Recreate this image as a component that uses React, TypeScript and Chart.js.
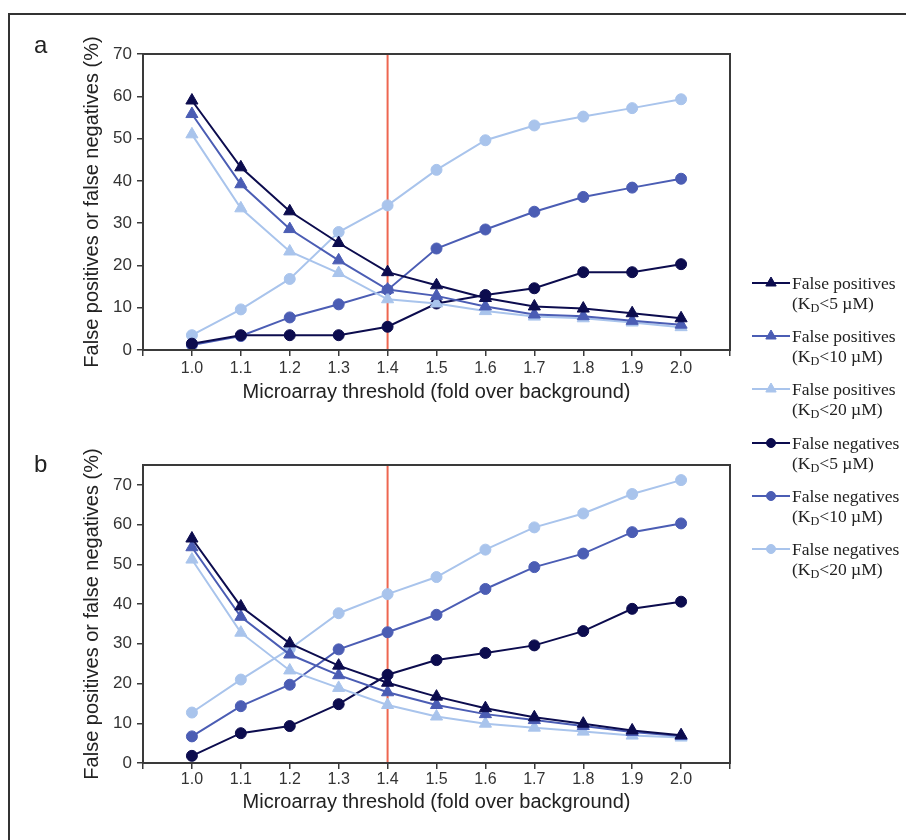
import React, { useEffect, useRef } from 'react';
import { Chart, registerables } from 'chart.js';

Chart.register(...registerables);

// ---------- data ----------
const xValues = [1.0, 1.1, 1.2, 1.3, 1.4, 1.5, 1.6, 1.7, 1.8, 1.9, 2.0];
const xTickValues = [0.9, 1.0, 1.1, 1.2, 1.3, 1.4, 1.5, 1.6, 1.7, 1.8, 1.9, 2.0, 2.1];
const yTickValues = [0, 10, 20, 30, 40, 50, 60, 70];
const thresholdX = 1.4;

// panel a
const aFP5 = [59, 43.2, 32.8, 25.3, 18.4, 15.3, 12.3, 10.3, 9.8, 8.7, 7.5];
const aFP10 = [55.8, 39.2, 28.6, 21.2, 14.3, 12.8, 10.3, 8.4, 8.0, 6.9, 6.0];
const aFP20 = [51, 33.5, 23.3, 18.2, 12, 11, 9.2, 7.9, 7.5, 6.5, 5.4];
const aFN5 = [1.5, 3.5, 3.5, 3.5, 5.5, 11, 13, 14.6, 18.4, 18.4, 20.3];
const aFN10 = [1.2, 3.3, 7.7, 10.8, 14.2, 24, 28.5, 32.7, 36.2, 38.4, 40.5];
const aFN20 = [3.5, 9.6, 16.8, 27.9, 34.2, 42.6, 49.6, 53.1, 55.2, 57.2, 59.3];

// panel b
const bFP5 = [56.5, 39.4, 30.1, 24.5, 20.2, 16.7, 13.8, 11.5, 9.9, 8.2, 7.0];
const bFP10 = [54.3, 36.8, 27.3, 22.1, 17.8, 14.6, 12.3, 10.8, 9.3, 7.8, 6.8];
const bFP20 = [51.2, 32.8, 23.3, 18.9, 14.6, 11.7, 9.9, 8.9, 7.9, 6.9, 6.4];
const bFN5 = [1.8, 7.5, 9.3, 14.8, 22.2, 25.9, 27.7, 29.6, 33.2, 38.8, 40.6];
const bFN10 = [6.7, 14.3, 19.7, 28.6, 32.9, 37.3, 43.8, 49.3, 52.7, 58.1, 60.3];
const bFN20 = [12.7, 21, 28.7, 37.7, 42.5, 46.8, 53.7, 59.3, 62.8, 67.7, 71.2];

const seriesNames = ['False positives', 'False positives', 'False positives', 'False negatives', 'False negatives', 'False negatives'];
const kdLimits = ['5', '10', '20', '5', '10', '20'];

const yAxisTitle = 'False positives or false negatives (%)';
const xAxisTitle = 'Microarray threshold (fold over background)';
const panelLabels = ['a', 'b'];

// ---------- styles ----------
const DARK = '#0c0c4e';
const MED = '#4b5db4';
const LIGHT = '#a9c4ec';
const seriesColors = [DARK, MED, LIGHT, DARK, MED, LIGHT];
const seriesMarkers = ['triangle', 'triangle', 'triangle', 'circle', 'circle', 'circle'];
const AXIS = '#3a3a3a';
const RED = '#ee6650';
const SANS = 'Arial, "Liberation Sans", sans-serif';
const SERIF = '"Times New Roman", "Liberation Serif", serif';

const framePlugin = {
  id: 'frameAndThreshold',
  beforeDatasetsDraw(chart: any) {
    const { ctx, chartArea, scales } = chart;
    const x = scales.x.getPixelForValue(thresholdX);
    ctx.save();
    ctx.strokeStyle = RED;
    ctx.lineWidth = 2;
    ctx.beginPath();
    ctx.moveTo(x, chartArea.top);
    ctx.lineTo(x, chartArea.bottom);
    ctx.stroke();
    ctx.restore();
  },
  afterDraw(chart: any) {
    const { ctx, chartArea } = chart;
    ctx.save();
    ctx.strokeStyle = AXIS;
    ctx.lineWidth = 2;
    ctx.strokeRect(chartArea.left, chartArea.top, chartArea.right - chartArea.left, chartArea.bottom - chartArea.top);
    ctx.restore();
  },
};

type PanelCfg = {
  series: number[][];
  yMax: number;
  padTop: number;
  xHeight: number;
  xTickPad: number;
  xTitlePadBottom: number;
};

function buildChart(canvas: HTMLCanvasElement, cfg: PanelCfg) {
  const datasets = cfg.series.map((vals, i) => ({
    label: seriesNames[i] + ' ' + kdLimits[i],
    data: vals.map((v, j) => ({ x: xValues[j], y: v })),
    borderColor: seriesColors[i],
    backgroundColor: seriesColors[i],
    pointBackgroundColor: seriesColors[i],
    pointBorderColor: seriesColors[i],
    pointStyle: seriesMarkers[i],
    pointRadius: seriesMarkers[i] === 'triangle' ? 7 : 5.5,
    pointBorderWidth: 1,
    borderWidth: 2,
    tension: 0,
    order: 0,
  }));
  return new Chart(canvas, {
    type: 'line',
    data: { datasets },
    plugins: [framePlugin],
    options: {
      responsive: false,
      animation: false,
      events: [],
      layout: { padding: { left: 0, right: 176, top: cfg.padTop, bottom: 0 } },
      plugins: { legend: { display: false }, tooltip: { enabled: false } },
      scales: {
        x: {
          type: 'linear',
          min: 0.9,
          max: 2.1,
          afterBuildTicks: (scale: any) => {
            scale.ticks = xTickValues.map((v) => ({ value: v }));
          },
          afterFit: (scale: any) => {
            scale.height = cfg.xHeight;
          },
          grid: { drawOnChartArea: false, drawTicks: true, tickLength: 6, color: AXIS, lineWidth: 1.5 },
          border: { display: true, color: AXIS, width: 2 },
          ticks: {
            autoSkip: false,
            maxRotation: 0,
            padding: cfg.xTickPad,
            color: '#333',
            font: { family: SANS, size: 16 },
            callback: (v: any) => {
              const n = Number(v);
              return n < 0.95 || n > 2.05 ? '' : n.toFixed(1);
            },
          },
          title: {
            display: true,
            text: xAxisTitle,
            color: '#222',
            font: { family: SANS, size: 20 },
            padding: { top: 0, bottom: cfg.xTitlePadBottom },
          },
        },
        y: {
          type: 'linear',
          min: 0,
          max: cfg.yMax,
          afterBuildTicks: (scale: any) => {
            scale.ticks = yTickValues.map((v) => ({ value: v }));
          },
          afterFit: (scale: any) => {
            scale.width = 143;
          },
          grid: { drawOnChartArea: false, drawTicks: true, tickLength: 6, color: AXIS, lineWidth: 1.5 },
          border: { display: true, color: AXIS, width: 2 },
          ticks: {
            padding: 5,
            color: '#333',
            font: { family: SANS, size: 17 },
            callback: (v: any) => String(v),
          },
          title: {
            display: true,
            text: yAxisTitle,
            color: '#222',
            font: { family: SANS, size: 20 },
            padding: { top: 80, bottom: 0 },
          },
        },
      },
    },
  } as any);
}

function Panel({ cfg, top }: { cfg: PanelCfg; top: number }) {
  const ref = useRef<HTMLCanvasElement | null>(null);
  useEffect(() => {
    if (!ref.current) return;
    const chart = buildChart(ref.current, cfg);
    return () => chart.destroy();
  }, []);
  return (
    <canvas
      ref={ref}
      width={906}
      height={420}
      style={{ position: 'absolute', left: 0, top, width: 906, height: 420 }}
    />
  );
}

function LegendMarker({ color, marker }: { color: string; marker: string }) {
  return (
    <svg width={38} height={20} style={{ position: 'absolute', left: 0, top: 0 }}>
      <line x1={0} y1={10} x2={38} y2={10} stroke={color} strokeWidth={2} />
      {marker === 'triangle' ? (
        <polygon points="19,4 24.2,13 13.8,13" fill={color} stroke={color} strokeWidth={1} />
      ) : (
        <circle cx={19} cy={10} r={4.5} fill={color} stroke={color} strokeWidth={1} />
      )}
    </svg>
  );
}

export default function App() {
  useEffect(() => {
    document.body.style.margin = '0';
  }, []);
  const panelA: PanelCfg = {
    series: [aFP5, aFP10, aFP20, aFN5, aFN10, aFN20],
    yMax: 70,
    padTop: 54,
    xHeight: 70,
    xTickPad: 3,
    xTitlePadBottom: 16,
  };
  const panelB: PanelCfg = {
    series: [bFP5, bFP10, bFP20, bFN5, bFN10, bFN20],
    yMax: 75,
    padTop: 45,
    xHeight: 77,
    xTickPad: 1,
    xTitlePadBottom: 26,
  };
  return (
    <div
      style={{
        position: 'fixed',
        left: 0,
        top: 0,
        width: 906,
        height: 840,
        overflow: 'hidden',
        background: '#fff',
      }}
    >
      <div
        style={{
          position: 'absolute',
          left: 8,
          top: 13,
          width: 1000,
          height: 1000,
          border: '2px solid #333',
          boxSizing: 'border-box',
        }}
      />
      <Panel cfg={panelA} top={0} />
      <Panel cfg={panelB} top={420} />
      {panelLabels.map((lab, i) => (
        <div
          key={lab}
          style={{
            position: 'absolute',
            left: 34,
            top: i === 0 ? 33 : 452,
            fontFamily: SANS,
            fontSize: 24,
            lineHeight: '24px',
            color: '#222',
          }}
        >
          {lab}
        </div>
      ))}
      {seriesNames.map((name, i) => (
        <div
          key={i}
          style={{
            position: 'absolute',
            left: 752,
            top: 273 + i * 53.2,
            width: 154,
            height: 44,
          }}
        >
          <LegendMarker color={seriesColors[i]} marker={seriesMarkers[i]} />
          <div
            style={{
              position: 'absolute',
              left: 40,
              top: 0,
              fontFamily: SERIF,
              fontSize: 17.5,
              lineHeight: '20px',
              color: '#222',
              whiteSpace: 'nowrap',
            }}
          >
            <div>{name}</div>
            <div>
              (K<sub style={{ fontSize: '0.7em', verticalAlign: 'baseline', position: 'relative', top: 3, lineHeight: 0 }}>D</sub>
              {'<'}
              {kdLimits[i]} µM)
            </div>
          </div>
        </div>
      ))}
    </div>
  );
}
